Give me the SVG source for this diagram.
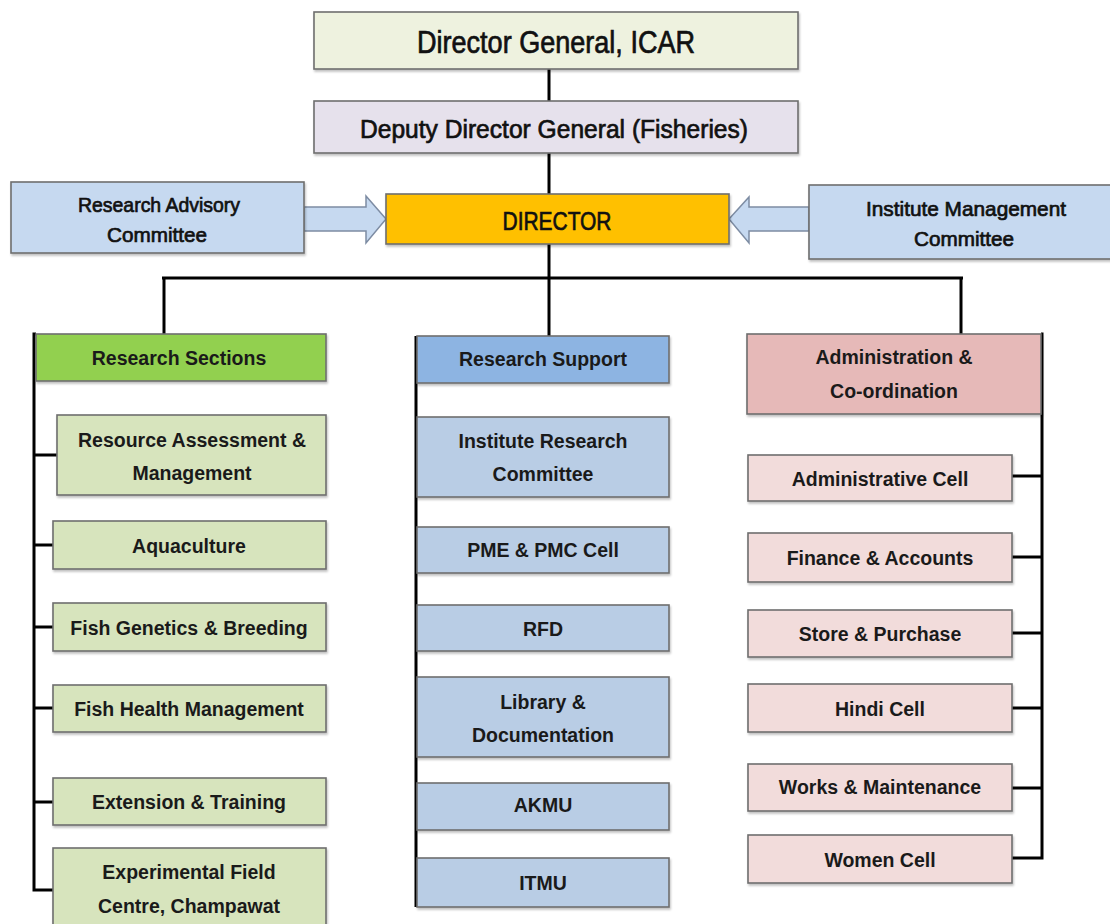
<svg xmlns="http://www.w3.org/2000/svg" width="1110" height="924" viewBox="0 0 1110 924">
<defs>
<filter id="sh" x="-5%" y="-10%" width="110%" height="130%"><feDropShadow dx="1" dy="2" stdDeviation="1.2" flood-color="#000" flood-opacity="0.25"/></filter>
</defs>
<style>
.box{stroke:#6e6e6e;stroke-width:1.6;filter:url(#sh)}
.t{font-family:"Liberation Sans",Arial,sans-serif;fill:#1a1a1a;text-anchor:middle;font-weight:bold;font-size:19.5px}
.tc{font-family:"Liberation Sans Narrow","Liberation Sans",Arial,sans-serif;fill:#111;text-anchor:middle;stroke:#111;stroke-width:0.7}
.ln{stroke:#000;stroke-width:3;fill:none}
.g1{fill:#eef2df}.lav{fill:#e6e1ec}.dir{fill:#ffc000}.bl{fill:#c6d9f0}
.gh{fill:#92d050}.gb{fill:#d7e4bd}.bh{fill:#8db4e2}.bb{fill:#b9cde5}.rh{fill:#e6b9b8}.rb{fill:#f2dcdb}
.arr{fill:#c6d9f0;stroke:#7d8ca3;stroke-width:1.5}
</style>
<g id="connectors">
<line class="ln" x1="549" y1="69" x2="549" y2="101"/>
<line class="ln" x1="549" y1="153" x2="549" y2="194"/>
<line class="ln" x1="549" y1="244" x2="549" y2="336"/>
<line class="ln" x1="162" y1="278" x2="963" y2="278" stroke-width="4"/>
<line class="ln" x1="164" y1="278" x2="164" y2="334"/>
<line class="ln" x1="961" y1="278" x2="961" y2="334"/>
<polyline class="ln" points="36,334 34,334 34,890 55,890"/>
<line class="ln" x1="34" y1="455" x2="57" y2="455"/>
<line class="ln" x1="34" y1="545" x2="53" y2="545"/>
<line class="ln" x1="34" y1="627" x2="53" y2="627"/>
<line class="ln" x1="34" y1="708" x2="53" y2="708"/>
<line class="ln" x1="34" y1="802" x2="53" y2="802"/>
<line class="ln" x1="416" y1="336" x2="416" y2="907"/>
<polyline class="ln" points="1041,334 1042,334 1042,858 1012,858"/>
<line class="ln" x1="1012" y1="476" x2="1042" y2="476"/>
<line class="ln" x1="1012" y1="557" x2="1042" y2="557"/>
<line class="ln" x1="1012" y1="633" x2="1042" y2="633"/>
<line class="ln" x1="1012" y1="708" x2="1042" y2="708"/>
<line class="ln" x1="1012" y1="788" x2="1042" y2="788"/>
<polygon class="arr" points="304,207 366,207 366,196 386,219 366,243 366,231 304,231"/>
<polygon class="arr" points="809,207 749,207 749,197 729,219 749,243 749,231 809,231"/>
</g>
<g id="dg"><rect class="box g1" x="314" y="12" width="484" height="57"/><text class="tc" x="556" y="53" font-size="31" textLength="278" lengthAdjust="spacingAndGlyphs">Director General, ICAR</text></g>
<g id="ddg"><rect class="box lav" x="314" y="101" width="484" height="52"/><text class="tc" x="554" y="138" font-size="26" textLength="388" lengthAdjust="spacingAndGlyphs">Deputy Director General (Fisheries)</text></g>
<g id="director"><rect class="box dir" x="386" y="194" width="343" height="50"/><text class="tc" x="557" y="230" font-size="26" textLength="109" lengthAdjust="spacingAndGlyphs">DIRECTOR</text></g>
<g id="rac"><rect class="box bl" x="11" y="182" width="293" height="71"/><text class="tc" x="159" y="212" font-size="21" textLength="162" lengthAdjust="spacingAndGlyphs">Research Advisory</text><text class="tc" x="157" y="242" font-size="21" textLength="100" lengthAdjust="spacingAndGlyphs">Committee</text></g>
<g id="imc"><rect class="box bl" x="809" y="185" width="310" height="74"/><text class="tc" x="966" y="216" font-size="21" textLength="200" lengthAdjust="spacingAndGlyphs">Institute Management</text><text class="tc" x="964" y="246" font-size="21" textLength="100" lengthAdjust="spacingAndGlyphs">Committee</text></g>

<g id="research-sections"><rect class="box gh" x="36" y="334" width="290" height="47"/><text class="t" x="179" y="365">Research Sections</text></g>
<g id="ram"><rect class="box gb" x="57" y="415" width="269" height="80"/><text class="t" x="192" y="447">Resource Assessment &amp;</text><text class="t" x="192" y="480">Management</text></g>
<g id="aqua"><rect class="box gb" x="53" y="521" width="273" height="48"/><text class="t" x="189" y="553">Aquaculture</text></g>
<g id="fgb"><rect class="box gb" x="53" y="603" width="273" height="48"/><text class="t" x="189" y="635">Fish Genetics &amp; Breeding</text></g>
<g id="fhm"><rect class="box gb" x="53" y="685" width="273" height="47"/><text class="t" x="189" y="716">Fish Health Management</text></g>
<g id="ext"><rect class="box gb" x="53" y="778" width="273" height="47"/><text class="t" x="189" y="809">Extension &amp; Training</text></g>
<g id="efc"><rect class="box gb" x="53" y="848" width="273" height="90"/><text class="t" x="189" y="879">Experimental Field</text><text class="t" x="189" y="913">Centre, Champawat</text></g>

<g id="research-support"><rect class="box bh" x="417" y="336" width="252" height="47"/><text class="t" x="543" y="366">Research Support</text></g>
<g id="irc"><rect class="box bb" x="417" y="417" width="252" height="80"/><text class="t" x="543" y="448">Institute Research</text><text class="t" x="543" y="481">Committee</text></g>
<g id="pme"><rect class="box bb" x="417" y="527" width="252" height="46"/><text class="t" x="543" y="557">PME &amp; PMC Cell</text></g>
<g id="rfd"><rect class="box bb" x="417" y="605" width="252" height="46"/><text class="t" x="543" y="636">RFD</text></g>
<g id="lib"><rect class="box bb" x="417" y="677" width="252" height="80"/><text class="t" x="543" y="709">Library &amp;</text><text class="t" x="543" y="742">Documentation</text></g>
<g id="akmu"><rect class="box bb" x="417" y="783" width="252" height="47"/><text class="t" x="543" y="812">AKMU</text></g>
<g id="itmu"><rect class="box bb" x="417" y="858" width="252" height="49"/><text class="t" x="543" y="890">ITMU</text></g>

<g id="admin"><rect class="box rh" x="747" y="334" width="294" height="80"/><text class="t" x="894" y="364">Administration &amp;</text><text class="t" x="894" y="398">Co-ordination</text></g>
<g id="adcell"><rect class="box rb" x="748" y="455" width="264" height="46"/><text class="t" x="880" y="486">Administrative Cell</text></g>
<g id="fin"><rect class="box rb" x="748" y="533" width="264" height="49"/><text class="t" x="880" y="565">Finance &amp; Accounts</text></g>
<g id="store"><rect class="box rb" x="748" y="610" width="264" height="47"/><text class="t" x="880" y="641">Store &amp; Purchase</text></g>
<g id="hindi"><rect class="box rb" x="748" y="684" width="264" height="48"/><text class="t" x="880" y="716">Hindi Cell</text></g>
<g id="works"><rect class="box rb" x="748" y="764" width="264" height="47"/><text class="t" x="880" y="794">Works &amp; Maintenance</text></g>
<g id="women"><rect class="box rb" x="748" y="835" width="264" height="48"/><text class="t" x="880" y="867">Women Cell</text></g>
</svg>
